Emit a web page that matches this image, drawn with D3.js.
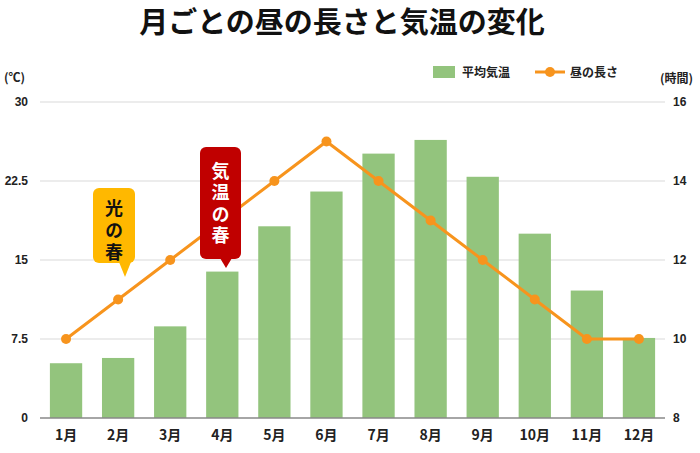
<!DOCTYPE html>
<html><head><meta charset="utf-8">
<script src="https://cdn.jsdelivr.net/npm/d3@7"></script>
<style>body{margin:0;background:#fff;font-family:"Noto Sans CJK JP","Noto Sans",sans-serif;}</style>
</head><body><svg id="c" width="700" height="453"></svg>
<script>
const months = ["1月","2月","3月","4月","5月","6月","7月","8月","9月","10月","11月","12月"];
const temps = [5.2,5.7,8.7,13.9,18.2,21.5,25.1,26.4,22.9,17.5,12.1,7.6];
const daylight = [10,11,12,13,14,15,14,13,12,11,10,10];
const leftTicks = [0,7.5,15,22.5,30];
const rightTicks = [8,10,12,14,16];

const svg = d3.select("#c");
const M = {l:40, r:665, t:102, b:418};
const x = d3.scaleBand().domain(months).range([M.l, M.r]).paddingInner(0.38).paddingOuter(0.19);
const yL = d3.scaleLinear().domain([0,30]).range([M.b, M.t]);
const yR = d3.scaleLinear().domain([8,16]).range([M.b, M.t]);
const font = '"Noto Sans CJK JP", sans-serif';

svg.append("text").attr("x",342).attr("y",33).attr("text-anchor","middle")
  .attr("font-size",29).attr("font-weight","bold").attr("font-family",font).attr("fill","#111")
  .text("月ごとの昼の長さと気温の変化");

// grid
svg.append("g").selectAll("line").data(leftTicks.filter(d=>d>0)).join("line")
  .attr("x1",M.l).attr("x2",M.r).attr("y1",d=>yL(d)).attr("y2",d=>yL(d))
  .attr("stroke","#d9d9d9").attr("stroke-width",1);

// bars
svg.append("g").selectAll("rect").data(temps).join("rect")
  .attr("x",(d,i)=>x(months[i])).attr("width",x.bandwidth())
  .attr("y",d=>yL(d)).attr("height",d=>yL(0)-yL(d)).attr("fill","#93c47d");

// baseline
svg.append("line").attr("x1",M.l).attr("x2",M.r).attr("y1",M.b).attr("y2",M.b)
  .attr("stroke","#888").attr("stroke-width",1.5);

// axes
const gL = svg.append("g").attr("transform",`translate(${M.l},0)`)
  .call(d3.axisLeft(yL).tickValues(leftTicks).tickSize(0).tickPadding(12).tickFormat(d=>d));
const gR = svg.append("g").attr("transform",`translate(${M.r},0)`)
  .call(d3.axisRight(yR).tickValues(rightTicks).tickSize(0).tickPadding(8).tickFormat(d=>d));
const gX = svg.append("g").attr("transform",`translate(0,${M.b})`)
  .call(d3.axisBottom(x).tickSize(0).tickPadding(12));
[gL,gR].forEach(g=>{g.select(".domain").remove();g.selectAll("text").attr("font-size",12).attr("font-weight","bold").attr("font-family","Liberation Sans, Arial, sans-serif").attr("fill","#222");});
gX.select(".domain").remove();
gX.selectAll("text").attr("font-size",14).attr("font-weight","bold").attr("font-family",font).attr("fill","#222");

// line
const line = d3.line().x((d,i)=>x(months[i])+x.bandwidth()/2).y(d=>yR(d));
svg.append("path").datum(daylight).attr("d",line).attr("fill","none")
  .attr("stroke","#f7941d").attr("stroke-width",3);
svg.append("g").selectAll("circle").data(daylight).join("circle")
  .attr("cx",(d,i)=>x(months[i])+x.bandwidth()/2).attr("cy",d=>yR(d)).attr("r",5).attr("fill","#f7941d");

// unit labels
svg.append("text").attr("x",4).attr("y",82).attr("font-size",12).attr("font-weight","bold").attr("font-family",font).attr("fill","#222").text("(℃)");
svg.append("text").attr("x",660).attr("y",83).attr("font-size",12).attr("font-weight","bold").attr("font-family",font).attr("fill","#222").text("(時間)");

// legend
svg.append("rect").attr("x",433).attr("y",66).attr("width",22).attr("height",12).attr("fill","#93c47d");
svg.append("text").attr("x",462).attr("y",77).attr("font-size",12).attr("font-weight","bold").attr("font-family",font).attr("fill","#222").text("平均気温");
svg.append("line").attr("x1",535).attr("x2",565).attr("y1",72).attr("y2",72).attr("stroke","#f7941d").attr("stroke-width",3);
svg.append("circle").attr("cx",550).attr("cy",72).attr("r",5).attr("fill","#f7941d");
svg.append("text").attr("x",570).attr("y",77).attr("font-size",12).attr("font-weight","bold").attr("font-family",font).attr("fill","#222").text("昼の長さ");

// callouts (vertical text)
function callout(x0,y0,w,h,px,py,color,txtColor,label,midY,ls){
  const g = svg.append("g");
  g.append("rect").attr("x",x0).attr("y",y0).attr("width",w).attr("height",h).attr("rx",6).attr("fill",color);
  g.append("path").attr("d",`M${px-6},${y0+h-1} L${px+6},${y0+h-1} L${px},${py} Z`).attr("fill",color);
  g.append("text").attr("x",x0+w/2).attr("y",midY)
    .style("writing-mode","vertical-rl").attr("text-anchor","middle")
    .style("letter-spacing",ls+"px")
    .attr("font-size",18).attr("font-weight","bold").attr("font-family",font).attr("fill",txtColor).text(label);
}
callout(93,188,42,75,125,277,"#ffb800","#111","光の春",232,4);
callout(200,147,41,112,226,268,"#c00000","#fff","気温の春",205,3.5);
</script></body></html>
